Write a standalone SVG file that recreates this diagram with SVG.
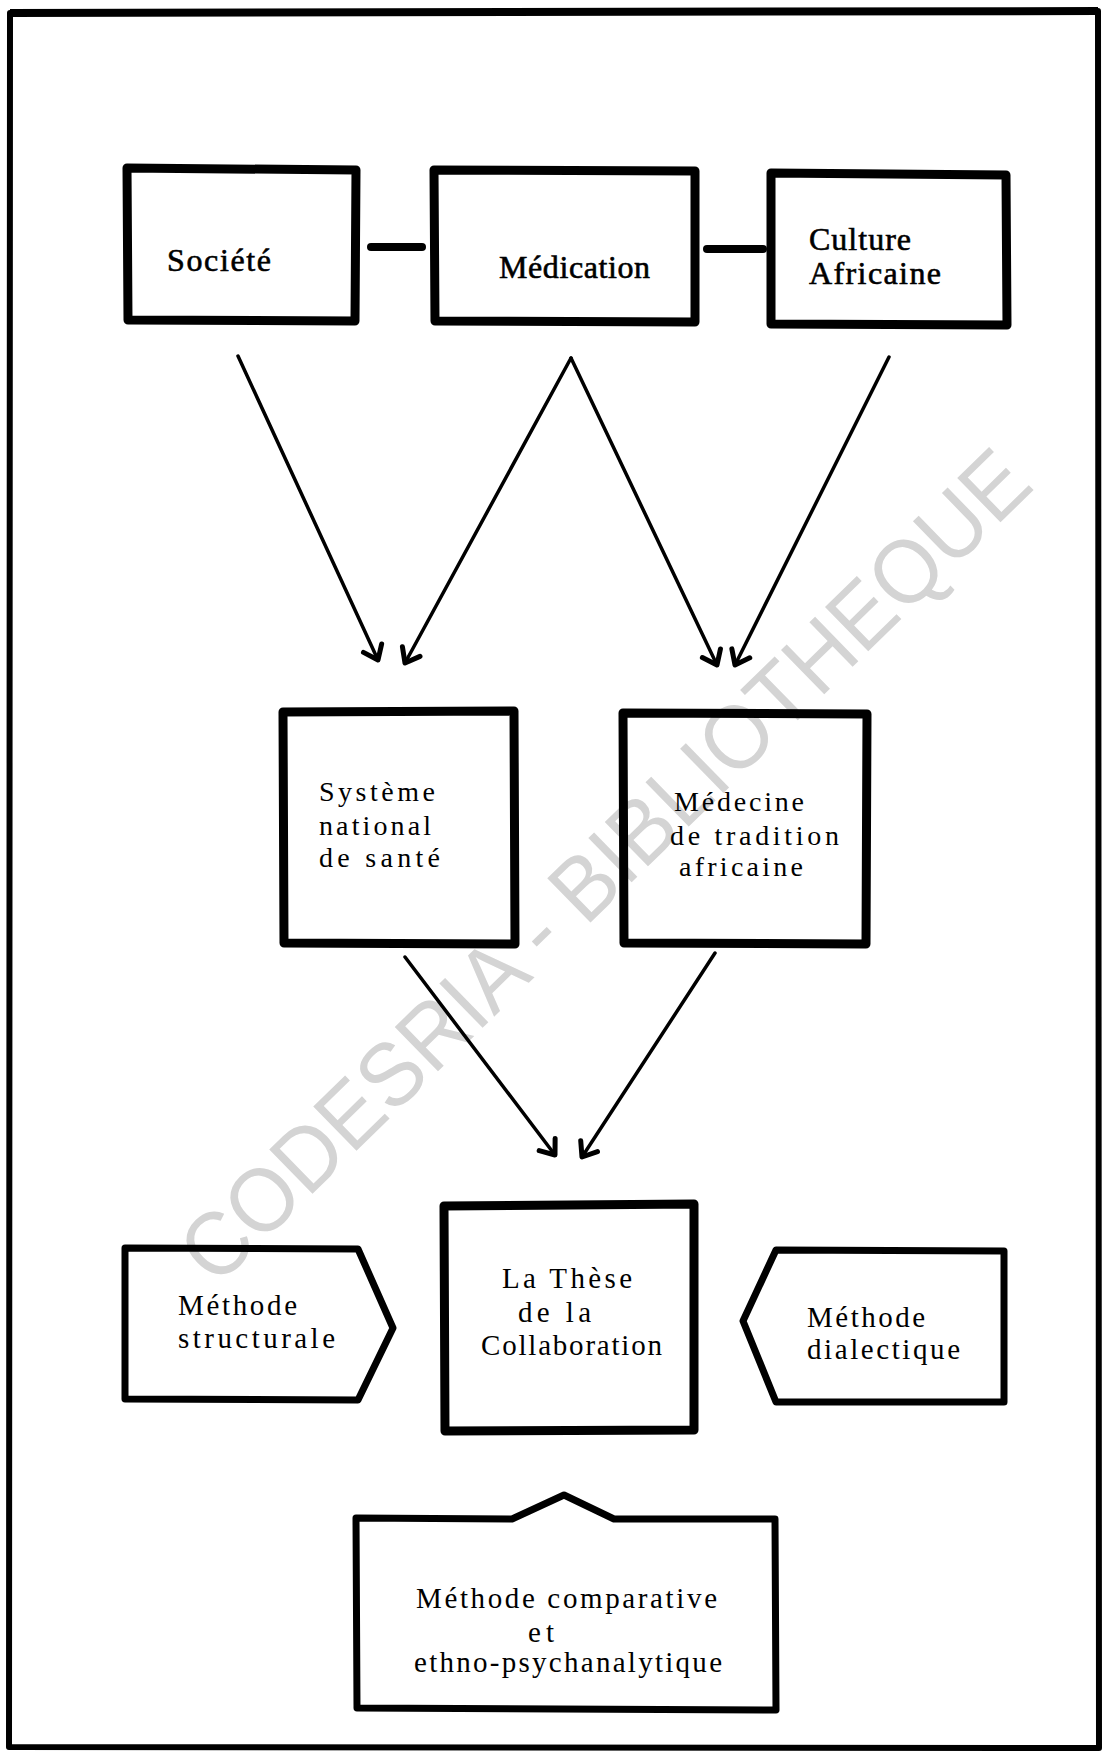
<svg xmlns="http://www.w3.org/2000/svg" width="1105" height="1753" viewBox="0 0 1105 1753">
<style>
.box{fill:none;stroke:#000;stroke-width:9;stroke-linejoin:round;stroke-linecap:round}
.shape{fill:none;stroke:#000;stroke-width:7;stroke-linejoin:round;stroke-linecap:round}
.t30{font-family:"Liberation Serif","Times New Roman",serif;font-size:32px;fill:#000;stroke:#000;stroke-width:0.6}
.t26{font-family:"Liberation Serif","Times New Roman",serif;font-size:28px;fill:#000}
.t27{font-family:"Liberation Serif","Times New Roman",serif;font-size:29px;fill:#000}
.arrow{fill:none;stroke:#000;stroke-width:3.5;stroke-linecap:round;marker-end:url(#head)}
.dash{stroke:#000;stroke-width:8;stroke-linecap:round}
.wm{font-family:"Liberation Sans",Arial,sans-serif;font-size:90px;fill:#d4d4d4}
</style>
<defs>
<marker id="head" markerUnits="userSpaceOnUse" markerWidth="40" markerHeight="40" viewBox="-20 -20 40 40" refX="0" refY="0" orient="auto">
<path d="M-13,-10 L0,0 L-13,10" fill="none" stroke="#000" stroke-width="5" stroke-linecap="round" stroke-linejoin="round"/>
</marker>
</defs>
<rect width="1105" height="1753" fill="#fff"/>
<g id="watermark">
<text class="wm" x="0" y="0" transform="translate(216,1288) rotate(-44.3)" textLength="1146" lengthAdjust="spacingAndGlyphs">CODESRIA - BIBLIOTHEQUE</text>
</g>
<g id="frame">
<path d="M10,13 L1098,11 L1099,1748 L9,1747 Z" fill="none" stroke="#000" stroke-width="6" stroke-linejoin="round"/>
<line x1="10" y1="13" x2="1098" y2="11" stroke="#000" stroke-width="8"/>
</g>
<g id="connectors">
<line class="dash" x1="371" y1="247" x2="422" y2="247"/>
<line class="dash" x1="707" y1="249" x2="763" y2="249"/>
<line class="arrow" x1="238" y1="356" x2="378" y2="660"/>
<line class="arrow" x1="571" y1="358" x2="405" y2="663"/>
<line class="arrow" x1="571" y1="358" x2="717" y2="665"/>
<line class="arrow" x1="889" y1="357" x2="735" y2="665"/>
<line class="arrow" x1="405" y1="957" x2="555" y2="1155"/>
<line class="arrow" x1="715" y1="953" x2="582" y2="1157"/>
</g>
<g id="societe">
<path class="box" d="M127,168 L356,170 L355,321 L128,320 Z"/>
<text class="t30" x="167" y="271" textLength="104" lengthAdjust="spacing">Société</text>
</g>
<g id="medication">
<path class="box" d="M434,170 L695,171 L695,322 L435,321 Z"/>
<text class="t30" x="499" y="278" textLength="151" lengthAdjust="spacing">Médication</text>
</g>
<g id="culture">
<path class="box" d="M771,173 L1006,175 L1007,325 L771,324 Z"/>
<text class="t30" x="809" y="250" textLength="102" lengthAdjust="spacing">Culture</text>
<text class="t30" x="809" y="284" textLength="132" lengthAdjust="spacing">Africaine</text>
</g>
<g id="systeme">
<path class="box" d="M283,712 L514,711 L515,944 L284,943 Z"/>
<text class="t26" x="319" y="801" textLength="116" lengthAdjust="spacing">Système</text>
<text class="t26" x="319" y="835" textLength="112" lengthAdjust="spacing">national</text>
<text class="t26" x="319" y="867" textLength="121" lengthAdjust="spacing">de santé</text>
</g>
<g id="medecine">
<path class="box" d="M623,713 L867,714 L866,944 L624,943 Z"/>
<text class="t26" x="674" y="811" textLength="130" lengthAdjust="spacing">Médecine</text>
<text class="t26" x="670" y="845" textLength="169" lengthAdjust="spacing">de tradition</text>
<text class="t26" x="679" y="876" textLength="124" lengthAdjust="spacing">africaine</text>
</g>
<g id="these">
<path class="box" d="M444,1206 L694,1204 L694,1430 L445,1431 Z"/>
<text class="t27" x="502" y="1288" textLength="130" lengthAdjust="spacing">La Thèse</text>
<text class="t27" x="518" y="1322" textLength="73" lengthAdjust="spacing">de la</text>
<text class="t27" x="481" y="1355" textLength="181" lengthAdjust="spacing">Collaboration</text>
</g>
<g id="structurale">
<path class="shape" d="M125,1248 L358,1249 L393,1328 L358,1400 L125,1399 Z"/>
<text class="t27" x="178" y="1315" textLength="119" lengthAdjust="spacing">Méthode</text>
<text class="t27" x="178" y="1348" textLength="157" lengthAdjust="spacing">structurale</text>
</g>
<g id="dialectique">
<path class="shape" d="M1004,1251 L776,1250 L743,1321 L776,1402 L1004,1402 Z"/>
<text class="t27" x="807" y="1327" textLength="118" lengthAdjust="spacing">Méthode</text>
<text class="t27" x="807" y="1359" textLength="153" lengthAdjust="spacing">dialectique</text>
</g>
<g id="comparative">
<path class="shape" d="M356,1518 L512,1519 L564,1495 L614,1519 L775,1519 L776,1710 L357,1708 Z"/>
<text class="t27" x="416" y="1608" textLength="301" lengthAdjust="spacing">Méthode comparative</text>
<text class="t27" x="528" y="1642" textLength="26" lengthAdjust="spacing">et</text>
<text class="t27" x="414" y="1672" textLength="308" lengthAdjust="spacing">ethno-psychanalytique</text>
</g>
</svg>
